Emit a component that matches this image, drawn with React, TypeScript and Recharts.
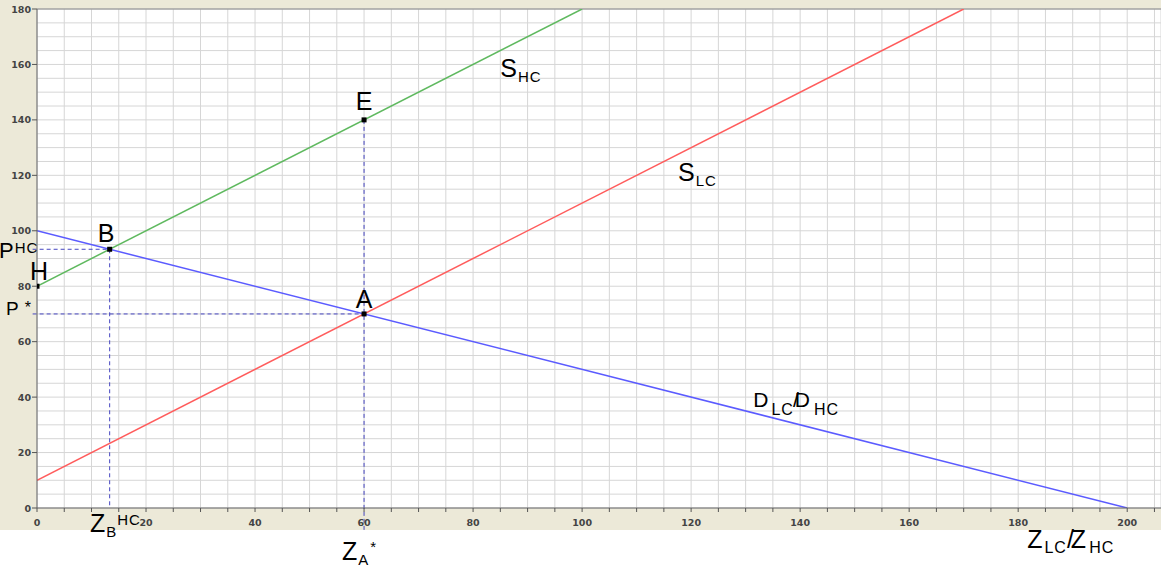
import React from 'react';
import {
  ComposedChart,
  Line,
  Scatter,
  XAxis,
  YAxis,
  CartesianGrid,
  ReferenceLine,
  ReferenceDot,
} from 'recharts';

// market lines (quantity Z, price P)
const demandZ = [0, 200];
const demandP = [100, 0];
const supplyLcZ = [0, 170];
const supplyLcP = [10, 180];
const supplyHcZ = [0, 100];
const supplyHcP = [80, 180];

// marked points H, B, A, E
const pointZ = [0, 13.33, 60, 60];
const pointP = [80, 93.33, 70, 140];

const xTickLabels = [0, 20, 40, 60, 80, 100, 120, 140, 160, 180, 200];
const yTickLabels = [0, 20, 40, 60, 80, 100, 120, 140, 160, 180];
const gridStep = 5;
const xMax = 206.2;
const yMax = 180;

// dashed guide segments [z1, p1, z2, p2]
const guides = [
  [-0.8, 93.33, 13.33, 93.33],
  [13.33, 93.33, 13.33, 0],
  [-0.8, 70, 60, 70],
  [60, 140, 60, -8],
];

type Part = { t: string; s: number; b?: number; dx?: number; ls?: number };
type Lbl = { z: number; p: number; anchor?: 'start' | 'middle'; parts: Part[] };

const labels: Lbl[] = [
  { z: 85, p: 155.5, parts: [{ t: 'S', s: 25 }, { t: 'HC', s: 15, b: 5, dx: 1 }] },
  { z: 117.6, p: 118, parts: [{ t: 'S', s: 25 }, { t: 'LC', s: 15, b: 5, dx: 1 }] },
  {
    z: 131.4,
    p: 36.4,
    parts: [
      { t: 'D', s: 21 },
      { t: 'LC', s: 16, b: 8, dx: 3 },
      { t: '/D', s: 21, b: 0, dx: -1, ls: -4 },
      { t: 'HC', s: 16, b: 8, dx: 8 },
    ],
  },
  { z: 60, p: 143.6, anchor: 'middle', parts: [{ t: 'E', s: 25 }] },
  { z: 60, p: 72.2, anchor: 'middle', parts: [{ t: 'A', s: 25 }] },
  { z: 12.66, p: 96, anchor: 'middle', parts: [{ t: 'B', s: 25 }] },
  { z: -6.97, p: 90.2, parts: [{ t: 'P', s: 22 }, { t: 'HC', s: 15, b: -5, dx: 1 }] },
  { z: -1.28, p: 82.25, parts: [{ t: 'H', s: 25 }] },
  { z: -5.69, p: 69.6, parts: [{ t: 'P', s: 19 }, { t: '*', s: 16, b: -2, dx: 5 }] },
  {
    z: 9.72,
    p: -8.66,
    parts: [{ t: 'Z', s: 25 }, { t: 'B', s: 15, b: 5, dx: 1 }, { t: 'HC', s: 15, b: -7 }],
  },
  {
    z: 55.96,
    p: -18.8,
    parts: [{ t: 'Z', s: 25 }, { t: 'A', s: 15, b: 5, dx: 1 }, { t: '*', s: 15, b: -8, dx: 1 }],
  },
  {
    z: 181.65,
    p: -14.4,
    parts: [
      { t: 'Z', s: 25 },
      { t: 'LC', s: 16, b: 5, dx: 2 },
      { t: '/Z', s: 25, b: 0, ls: -3 },
      { t: 'HC', s: 16, b: 5, dx: 6 },
    ],
  },
];

const zip = (zs: number[], ps: number[]) => zs.map((z, i) => ({ z, p: ps[i] }));

const xTicks: number[] = [];
for (let v = 0; v <= xMax; v += gridStep) xTicks.push(v);
const yTicks: number[] = [];
for (let v = 0; v <= yMax; v += gridStep) yTicks.push(v);

const tickFont = { fontFamily: 'DejaVu Sans', fontSize: 9.5, fontWeight: 700, fill: '#444' };
const textFont = '"Liberation Sans", Arial, sans-serif';

const XTick = (props: any) => {
  const { x, y, payload } = props;
  if (!xTickLabels.includes(payload.value)) return <g />;
  return (
    <text x={x} y={y + 12} textAnchor="middle" {...tickFont}>
      {payload.value}
    </text>
  );
};

const YTick = (props: any) => {
  const { x, y, payload } = props;
  if (!yTickLabels.includes(payload.value)) return <g />;
  return (
    <g>
      <line x1={x} x2={x + 5} y1={y} y2={y} stroke="#555" />
      <text x={x - 1} y={y + 3.5} textAnchor="end" {...tickFont}>
        {payload.value}
      </text>
    </g>
  );
};

const mathLabel = (l: Lbl) => (props: any) => {
  const { x, y } = props.viewBox;
  let prev = 0;
  return (
    <text x={x} y={y} textAnchor={l.anchor || 'start'} fontFamily={textFont} fill="#000">
      {l.parts.map((pt, i) => {
        const b = pt.b || 0;
        const dy = b - prev;
        prev = b;
        const ls = pt.ls !== undefined ? pt.ls : pt.s < 20 ? 1 : 0;
        return (
          <tspan key={i} fontSize={pt.s} dy={dy} dx={pt.dx || 0} letterSpacing={ls}>
            {pt.t}
          </tspan>
        );
      })}
    </text>
  );
};

const Square = (props: any) => (
  <rect x={props.cx - 2.5} y={props.cy - 2.5} width={5} height={5} fill="#000" />
);

export default function App() {
  return (
    <div style={{ position: 'absolute', left: 0, top: 0, width: 1161, height: 569, background: '#fff' }}>
      <div style={{ position: 'absolute', left: 0, top: 0, width: 1161, height: 530, background: '#ECE9D8' }} />
      <div style={{ position: 'absolute', left: 0, top: 0 }}>
        <ComposedChart width={1161} height={569} margin={{ top: 9, right: 0, bottom: 0, left: 0 }}>
          <CartesianGrid stroke="#d6d6d6" fill="#fff" />
          <XAxis
            type="number"
            dataKey="z"
            domain={[0, xMax]}
            allowDataOverflow
            ticks={xTicks}
            interval={0}
            height={61}
            tickSize={4}
            tickMargin={2}
            tick={<XTick />}
            tickLine={{ stroke: '#555' }}
            axisLine={{ stroke: '#666' }}
          />
          <YAxis
            type="number"
            dataKey="p"
            domain={[0, yMax]}
            allowDataOverflow
            ticks={yTicks}
            interval={0}
            width={37}
            tickSize={5}
            tickMargin={0}
            tickLine={false}
            tick={<YTick />}
            axisLine={{ stroke: '#666' }}
          />
          <ReferenceLine y={yMax} stroke="#888" />
          <Line data={zip(demandZ, demandP)} dataKey="p" stroke="#5b5bff" strokeWidth={1.5} dot={false} isAnimationActive={false} />
          <Line data={zip(supplyLcZ, supplyLcP)} dataKey="p" stroke="#ff5c5c" strokeWidth={1.5} dot={false} isAnimationActive={false} />
          <Line data={zip(supplyHcZ, supplyHcP)} dataKey="p" stroke="#5fb95f" strokeWidth={1.5} dot={false} isAnimationActive={false} />
          {guides.map((g, i) => (
            <ReferenceLine
              key={i}
              segment={[{ x: g[0], y: g[1] }, { x: g[2], y: g[3] }]}
              stroke="#4545c0"
              strokeDasharray="4 3"
              ifOverflow="visible"
            />
          ))}
          <Scatter data={zip(pointZ, pointP)} dataKey="p" shape={<Square />} isAnimationActive={false} />
          {labels.map((l, i) => (
            <ReferenceDot
              key={i}
              x={l.z}
              y={l.p}
              r={0}
              fill="none"
              stroke="none"
              ifOverflow="visible"
              label={{ content: mathLabel(l) }}
            />
          ))}
        </ComposedChart>
      </div>
    </div>
  );
}
